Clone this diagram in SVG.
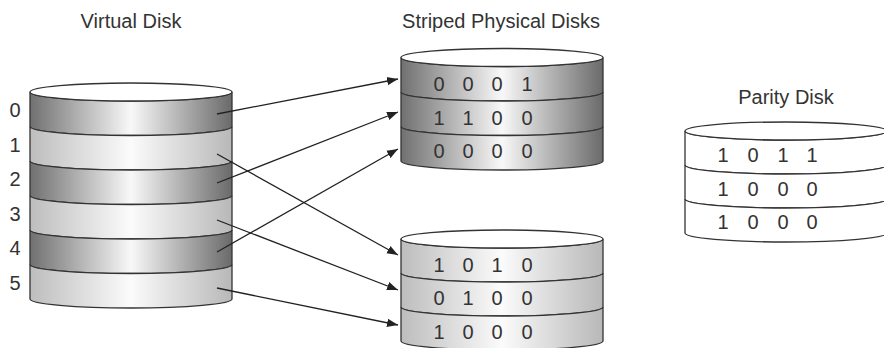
<svg xmlns="http://www.w3.org/2000/svg" width="884" height="348" viewBox="0 0 884 348">
<defs>
<linearGradient id="dark" x1="0" y1="0" x2="1" y2="0">
<stop offset="0" stop-color="#707070"/>
<stop offset="0.5" stop-color="#f8f8f8"/>
<stop offset="1" stop-color="#6a6a6a"/>
</linearGradient>
<linearGradient id="light" x1="0" y1="0" x2="1" y2="0">
<stop offset="0" stop-color="#bdbdbd"/>
<stop offset="0.5" stop-color="#fbfbfb"/>
<stop offset="1" stop-color="#b8b8b8"/>
</linearGradient>
<marker id="ah" markerWidth="12" markerHeight="10" refX="11" refY="5" orient="auto" markerUnits="userSpaceOnUse">
<path d="M0,0.8 L11,5 L0,9.2 Z" fill="#222"/>
</marker>
<style>
text{font-family:"Liberation Sans",Arial,sans-serif;font-size:20px;fill:#333}
.t{text-anchor:middle}
.b{stroke:#333;stroke-width:1.3}
.dk{fill:url(#dark)}
.lt{fill:url(#light)}
.wh{fill:#fff}
.cap{fill:#fff;stroke:#333;stroke-width:1.3}
.arr{stroke:#222;stroke-width:1.3;fill:none;marker-end:url(#ah)}
</style>
</defs>
<rect width="884" height="348" fill="#fff"/>
<text class="t" x="131" y="28">Virtual Disk</text>
<text class="t" x="501" y="28">Striped Physical Disks</text>
<text class="t" x="786" y="104">Parity Disk</text>

<g id="virtual-disk">
<path class="b dk" d="M30,92 A101,9 0 0 0 232,92 L232,126.5 A101,9 0 0 1 30,126.5 Z"/>
<path class="b lt" d="M30,126.5 A101,9 0 0 0 232,126.5 L232,161 A101,9 0 0 1 30,161 Z"/>
<path class="b dk" d="M30,161 A101,9 0 0 0 232,161 L232,195.5 A101,9 0 0 1 30,195.5 Z"/>
<path class="b lt" d="M30,195.5 A101,9 0 0 0 232,195.5 L232,230 A101,9 0 0 1 30,230 Z"/>
<path class="b dk" d="M30,230 A101,9 0 0 0 232,230 L232,264.5 A101,9 0 0 1 30,264.5 Z"/>
<path class="b lt" d="M30,264.5 A101,9 0 0 0 232,264.5 L232,299 A101,9 0 0 1 30,299 Z"/>
<ellipse class="cap" cx="131" cy="92" rx="101" ry="9"/>
<text class="t" x="15" y="117">0</text>
<text class="t" x="15" y="151.5">1</text>
<text class="t" x="15" y="186">2</text>
<text class="t" x="15" y="220.5">3</text>
<text class="t" x="15" y="255">4</text>
<text class="t" x="15" y="289.5">5</text>
</g>

<g id="striped-disk-1">
<path class="b dk" d="M401,57.5 A101,9 0 0 0 603,57.5 L603,92 A101,9 0 0 1 401,92 Z"/>
<path class="b dk" d="M401,92 A101,9 0 0 0 603,92 L603,126.5 A101,9 0 0 1 401,126.5 Z"/>
<path class="b dk" d="M401,126.5 A101,9 0 0 0 603,126.5 L603,161 A101,9 0 0 1 401,161 Z"/>
<ellipse class="cap" cx="502" cy="57.5" rx="101" ry="9"/>
<g class="t">
<text x="439" y="90.5">0</text><text x="468" y="90.5">0</text><text x="497" y="90.5">0</text><text x="527" y="90.5">1</text>
<text x="439" y="124.5">1</text><text x="468" y="124.5">1</text><text x="497" y="124.5">0</text><text x="527" y="124.5">0</text>
<text x="439" y="157.5">0</text><text x="468" y="157.5">0</text><text x="497" y="157.5">0</text><text x="527" y="157.5">0</text>
</g>
</g>

<g id="striped-disk-2">
<path class="b lt" d="M401,239 A101,9 0 0 0 603,239 L603,273 A101,9 0 0 1 401,273 Z"/>
<path class="b lt" d="M401,273 A101,9 0 0 0 603,273 L603,307 A101,9 0 0 1 401,307 Z"/>
<path class="b lt" d="M401,307 A101,9 0 0 0 603,307 L603,341 A101,9 0 0 1 401,341 Z"/>
<ellipse class="cap" cx="502" cy="239" rx="101" ry="9"/>
<g class="t">
<text x="439" y="271.5">1</text><text x="468" y="271.5">0</text><text x="497" y="271.5">1</text><text x="527" y="271.5">0</text>
<text x="439" y="305">0</text><text x="468" y="305">1</text><text x="497" y="305">0</text><text x="527" y="305">0</text>
<text x="439" y="338.5">1</text><text x="468" y="338.5">0</text><text x="497" y="338.5">0</text><text x="527" y="338.5">0</text>
</g>
</g>

<g id="parity-disk">
<path class="b wh" d="M685,131 A101,9 0 0 0 887,131 L887,165 A101,9 0 0 1 685,165 Z"/>
<path class="b wh" d="M685,165 A101,9 0 0 0 887,165 L887,199 A101,9 0 0 1 685,199 Z"/>
<path class="b wh" d="M685,199 A101,9 0 0 0 887,199 L887,233 A101,9 0 0 1 685,233 Z"/>
<ellipse class="cap" cx="786" cy="131" rx="101" ry="9"/>
<g class="t">
<text x="723" y="162">1</text><text x="753" y="162">0</text><text x="783" y="162">1</text><text x="812" y="162">1</text>
<text x="723" y="195.5">1</text><text x="753" y="195.5">0</text><text x="783" y="195.5">0</text><text x="812" y="195.5">0</text>
<text x="723" y="229">1</text><text x="753" y="229">0</text><text x="783" y="229">0</text><text x="812" y="229">0</text>
</g>
</g>

<g id="connectors">
<line class="arr" x1="217" y1="114" x2="398" y2="79"/>
<line class="arr" x1="217" y1="183" x2="398" y2="112"/>
<line class="arr" x1="217" y1="252" x2="398" y2="149"/>
<line class="arr" x1="217" y1="154" x2="398" y2="255"/>
<line class="arr" x1="217" y1="220" x2="398" y2="290"/>
<line class="arr" x1="217" y1="288" x2="398" y2="325"/>
</g>
</svg>
